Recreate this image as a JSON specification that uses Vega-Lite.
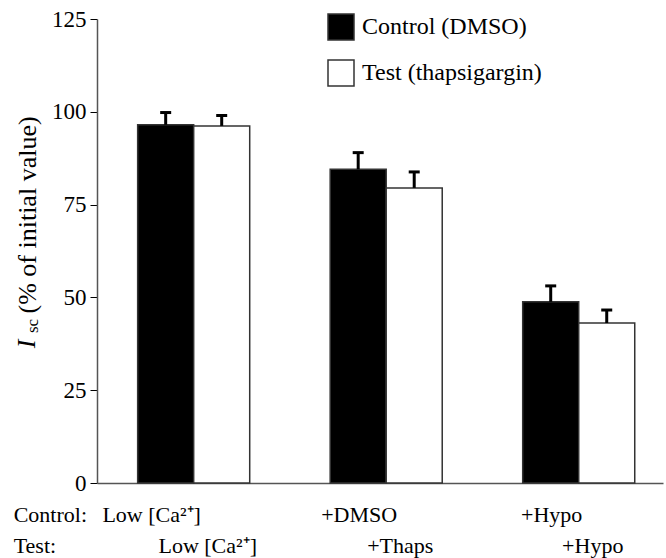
{
  "$schema": "https://vega.github.io/schema/vega-lite/v6.json",
  "width": 566,
  "height": 464,
  "autosize": "none",
  "padding": {"left": 97, "top": 19, "right": 3, "bottom": 75},
  "background": "white",
  "config": {"view": {"stroke": null}, "font": "Liberation Serif"},
  "datasets": {
    "bars": [
      {"group": "Low Ca", "series": "Control (DMSO)", "value": 96.5, "upper": 99.8},
      {"group": "Low Ca", "series": "Test (thapsigargin)", "value": 96.2, "upper": 99.0},
      {"group": "Drug", "series": "Control (DMSO)", "value": 84.5, "upper": 89.0},
      {"group": "Drug", "series": "Test (thapsigargin)", "value": 79.5, "upper": 83.8},
      {"group": "Hypo", "series": "Control (DMSO)", "value": 48.8, "upper": 53.1},
      {"group": "Hypo", "series": "Test (thapsigargin)", "value": 43.1, "upper": 46.6}
    ],
    "labels": [
      {"group": "Low Ca", "series": "Control (DMSO)", "text": "Low [Ca²⁺]"},
      {"group": "Drug", "series": "Control (DMSO)", "text": "+DMSO"},
      {"group": "Hypo", "series": "Control (DMSO)", "text": "+Hypo"},
      {"group": "Low Ca", "series": "Test (thapsigargin)", "text": "Low [Ca²⁺]"},
      {"group": "Drug", "series": "Test (thapsigargin)", "text": "+Thaps"},
      {"group": "Hypo", "series": "Test (thapsigargin)", "text": "+Hypo"}
    ],
    "rows": [
      {"group": "Low Ca", "row": "Control", "text": "Control:"},
      {"group": "Low Ca", "row": "Test", "text": "Test:"}
    ]
  },
  "layer": [
    {
      "data": {"name": "bars"},
      "mark": {"type": "bar", "stroke": "#333333", "strokeWidth": 1.5},
      "encoding": {
        "x": {
          "field": "group", "type": "nominal", "sort": ["Low Ca", "Drug", "Hypo"],
          "scale": {"paddingInner": 0.418, "paddingOuter": 0.179, "align": 0.59},
          "axis": {"domain": true, "domainColor": "#555555", "domainWidth": 1.5, "labels": false, "ticks": false, "title": null, "grid": false}
        },
        "xOffset": {
          "field": "series", "type": "nominal", "sort": ["Control (DMSO)", "Test (thapsigargin)"],
          "scale": {"paddingInner": 0, "paddingOuter": 0}
        },
        "y": {
          "field": "value", "type": "quantitative",
          "scale": {"domain": [0, 125], "nice": false},
          "axis": {
            "values": [0, 25, 50, 75, 100, 125], "grid": false,
            "domainColor": "#555555", "domainWidth": 1.5,
            "tickColor": "#000000", "tickSize": 7, "tickWidth": 1,
            "labelFont": "Liberation Serif", "labelFontSize": 23, "labelColor": "#000000", "labelPadding": 4,
            "title": "(% of initial value)", "titleFont": "Liberation Serif", "titleFontSize": 26,
            "titleFontWeight": "normal", "titleColor": "#000000", "titleAngle": 270,
            "titleAlign": "left", "titleBaseline": "middle", "titleX": -70, "titleY": 294
          }
        },
        "fill": {
          "field": "series", "type": "nominal",
          "scale": {"domain": ["Control (DMSO)", "Test (thapsigargin)"], "range": ["#000000", "#ffffff"]},
          "legend": {
            "orient": "none", "legendX": 230, "legendY": -6, "title": null,
            "symbolType": "square", "symbolSize": 676, "symbolStrokeColor": "#333333", "symbolStrokeWidth": 1.5,
            "labelFont": "Liberation Serif", "labelFontSize": 24, "labelColor": "#000000",
            "labelOffset": 7, "rowPadding": 14, "padding": 0, "symbolOffset": 0, "labelLimit": 400
          }
        }
      }
    },
    {
      "data": {"name": "bars"},
      "mark": {"type": "rule", "strokeWidth": 3, "color": "#000000"},
      "encoding": {
        "x": {"field": "group", "type": "nominal", "sort": ["Low Ca", "Drug", "Hypo"]},
        "xOffset": {"field": "series", "type": "nominal", "sort": ["Control (DMSO)", "Test (thapsigargin)"]},
        "y": {"field": "value", "type": "quantitative"},
        "y2": {"field": "upper"}
      }
    },
    {
      "data": {"name": "bars"},
      "mark": {"type": "tick", "thickness": 3, "color": "#000000", "opacity": 1},
      "encoding": {
        "x": {"field": "group", "type": "nominal", "sort": ["Low Ca", "Drug", "Hypo"]},
        "xOffset": {"field": "series", "type": "nominal", "sort": ["Control (DMSO)", "Test (thapsigargin)"]},
        "y": {"field": "upper", "type": "quantitative"},
        "size": {"value": 11}
      }
    },
    {
      "data": {"name": "labels"},
      "transform": [{"filter": "datum.series === 'Control (DMSO)' && datum.group !== 'Low Ca'"}],
      "mark": {"type": "text", "font": "Liberation Serif", "fontSize": 22, "align": "center", "baseline": "middle", "dy": 32, "dx": 1, "color": "#000000"},
      "encoding": {
        "x": {"field": "group", "type": "nominal", "sort": ["Low Ca", "Drug", "Hypo"]},
        "xOffset": {"field": "series", "type": "nominal", "sort": ["Control (DMSO)", "Test (thapsigargin)"]},
        "y": {"datum": 0, "type": "quantitative"},
        "text": {"field": "text"}
      }
    },
    {
      "data": {"name": "labels"},
      "transform": [{"filter": "datum.series === 'Control (DMSO)' && datum.group === 'Low Ca'"}],
      "mark": {"type": "text", "font": "Liberation Serif", "fontSize": 22, "align": "center", "baseline": "middle", "dy": 32, "dx": -14, "color": "#000000"},
      "encoding": {
        "x": {"field": "group", "type": "nominal", "sort": ["Low Ca", "Drug", "Hypo"]},
        "xOffset": {"field": "series", "type": "nominal", "sort": ["Control (DMSO)", "Test (thapsigargin)"]},
        "y": {"datum": 0, "type": "quantitative"},
        "text": {"field": "text"}
      }
    },
    {
      "data": {"name": "labels"},
      "transform": [{"filter": "datum.series === 'Test (thapsigargin)'"}],
      "mark": {"type": "text", "font": "Liberation Serif", "fontSize": 22, "align": "center", "baseline": "middle", "dy": 63, "dx": -14, "color": "#000000"},
      "encoding": {
        "x": {"field": "group", "type": "nominal", "sort": ["Low Ca", "Drug", "Hypo"]},
        "xOffset": {"field": "series", "type": "nominal", "sort": ["Control (DMSO)", "Test (thapsigargin)"]},
        "y": {"datum": 0, "type": "quantitative"},
        "text": {"field": "text"}
      }
    },
    {
      "data": {"name": "rows"},
      "transform": [{"filter": "datum.row === 'Control'"}],
      "mark": {"type": "text", "font": "Liberation Serif", "fontSize": 22, "align": "left", "baseline": "middle", "dy": 32, "dx": -180, "color": "#000000"},
      "encoding": {
        "x": {"field": "group", "type": "nominal", "sort": ["Low Ca", "Drug", "Hypo"]},
        "y": {"datum": 0, "type": "quantitative"},
        "text": {"field": "text"}
      }
    },
    {
      "data": {"name": "rows"},
      "transform": [{"filter": "datum.row === 'Test'"}],
      "mark": {"type": "text", "font": "Liberation Serif", "fontSize": 22, "align": "left", "baseline": "middle", "dy": 63, "dx": -180, "color": "#000000"},
      "encoding": {
        "x": {"field": "group", "type": "nominal", "sort": ["Low Ca", "Drug", "Hypo"]},
        "y": {"datum": 0, "type": "quantitative"},
        "text": {"field": "text"}
      }
    },
    {
      "data": {"values": [{"group": "Low Ca"}]},
      "mark": {"type": "text", "text": "I", "font": "Liberation Serif", "fontStyle": "italic", "fontSize": 26, "angle": 270, "align": "center", "baseline": "middle", "dx": 139, "dy": -167, "color": "#000000"},
      "encoding": {
        "x": {"field": "group", "type": "nominal", "sort": ["Low Ca", "Drug", "Hypo"]},
        "y": {"datum": 0, "type": "quantitative"}
      }
    },
    {
      "data": {"values": [{"group": "Low Ca"}]},
      "mark": {"type": "text", "text": "sc", "font": "Liberation Serif", "fontSize": 17, "angle": 270, "align": "center", "baseline": "middle", "dx": 157, "dy": -161, "color": "#000000"},
      "encoding": {
        "x": {"field": "group", "type": "nominal", "sort": ["Low Ca", "Drug", "Hypo"]},
        "y": {"datum": 0, "type": "quantitative"}
      }
    }
  ]
}
